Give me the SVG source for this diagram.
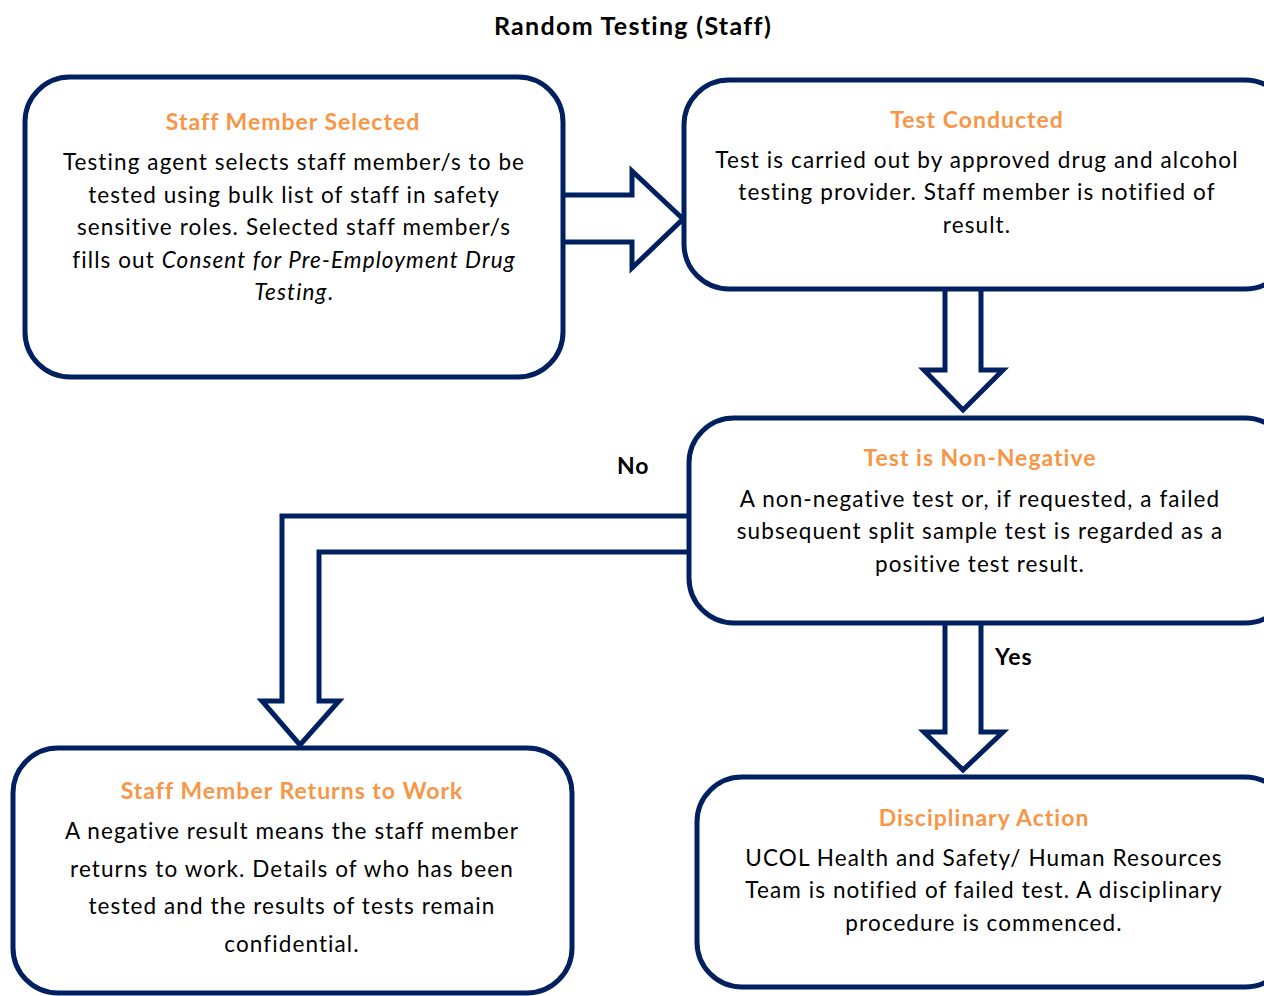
<svg xmlns="http://www.w3.org/2000/svg" width="1264" height="996" viewBox="0 0 1264 996">
  <style>
    .box { fill: #ffffff; stroke: #002060; stroke-width: 5; }
    .arrow { fill: #ffffff; stroke: #002060; stroke-width: 5; stroke-linejoin: miter; }
    text { font-family: Lato, "Open Sans", sans-serif; fill: #000000; }
    .title { font-size: 25px; font-weight: bold; letter-spacing: 1.3px; }
    .head { font-size: 23px; font-weight: bold; fill: #F79646; text-anchor: middle; letter-spacing: 1px; }
    .body { font-size: 22.5px; text-anchor: middle; letter-spacing: 1.1px; }
    .lbl { font-size: 23px; font-weight: bold; letter-spacing: 1px; }
    .it { font-style: italic; }
  </style>

  <rect width="1264" height="996" fill="#ffffff"/>

  <text class="title" x="633" y="35" text-anchor="middle">Random Testing (Staff)</text>

  <!-- connectors: block arrows -->
  <g id="connectors">
    <path class="arrow" d="M563,195 H632 V171 L683,219 L632,268 V242 H563"/>
    <path class="arrow" d="M945,289 V370 H924 L963,410 L1003,370 H981 V289"/>
    <path class="arrow" d="M945,623 V732 H924 L963,770 L1003,732 H981 V623"/>
    <path class="arrow" d="M689,516 H282 V701 H262 L300,745 L339,701 H319 V552 H689"/>
  </g>

  <g id="node-selected">
    <rect class="box" x="25" y="77" width="538" height="300" rx="45"/>
    <text class="head" x="293" y="130">Staff Member Selected</text>
    <text class="body" x="294" y="170">Testing agent selects staff member/s to be</text>
    <text class="body" x="294" y="203">tested using bulk list of staff in safety</text>
    <text class="body" x="294" y="235">sensitive roles. Selected staff member/s</text>
    <text class="body" x="294" y="268">fills out <tspan class="it">Consent for Pre-Employment Drug</tspan></text>
    <text class="body" x="294" y="300"><tspan class="it">Testing</tspan>.</text>
  </g>

  <g id="node-conducted">
    <rect class="box" x="684" y="80" width="606" height="209" rx="45"/>
    <text class="head" x="977" y="128">Test Conducted</text>
    <text class="body" x="977" y="168">Test is carried out by approved drug and alcohol</text>
    <text class="body" x="977" y="200">testing provider. Staff member is notified of</text>
    <text class="body" x="977" y="233">result.</text>
  </g>

  <g id="node-nonnegative">
    <rect class="box" x="689" y="418" width="601" height="205" rx="45"/>
    <text class="head" x="980" y="466">Test is Non-Negative</text>
    <text class="body" x="980" y="507">A non-negative test or, if requested, a failed</text>
    <text class="body" x="980" y="539">subsequent split sample test is regarded as a</text>
    <text class="body" x="980" y="572">positive test result.</text>
  </g>

  <text class="lbl" x="617" y="474">No</text>
  <text class="lbl" x="995" y="665">Yes</text>

  <g id="node-returns">
    <rect class="box" x="13" y="748" width="559" height="245" rx="45"/>
    <text class="head" x="292" y="799">Staff Member Returns to Work</text>
    <text class="body" x="292" y="839">A negative result means the staff member</text>
    <text class="body" x="292" y="877">returns to work. Details of who has been</text>
    <text class="body" x="292" y="914">tested and the results of tests remain</text>
    <text class="body" x="292" y="952">confidential.</text>
  </g>

  <g id="node-disciplinary">
    <rect class="box" x="697" y="777" width="593" height="210" rx="45"/>
    <text class="head" x="984" y="826">Disciplinary Action</text>
    <text class="body" x="984" y="866">UCOL Health and Safety/ Human Resources</text>
    <text class="body" x="984" y="898">Team is notified of failed test. A disciplinary</text>
    <text class="body" x="984" y="931">procedure is commenced.</text>
  </g>
</svg>
